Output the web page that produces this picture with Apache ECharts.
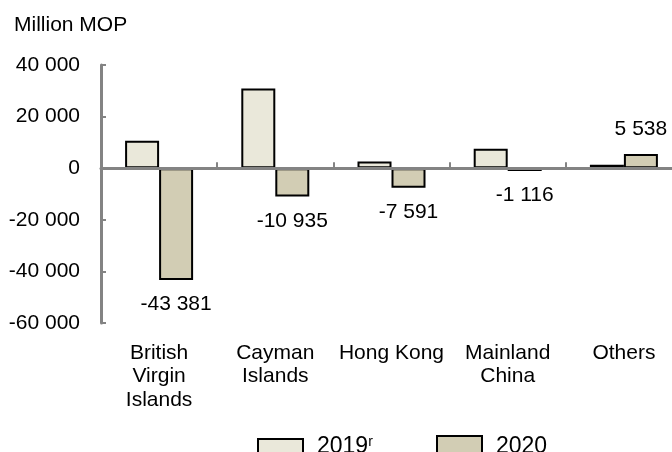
<!DOCTYPE html>
<html>
<head>
<meta charset="utf-8">
<script src="https://cdn.jsdelivr.net/npm/echarts@6/dist/echarts.min.js"></script>
<style>html,body{margin:0;padding:0;background:#fff;overflow:hidden}#c{width:682px;height:452px}</style>
</head>
<body>
<div id="c"></div>
<script>
var categories = ['British\nVirgin\nIslands', 'Cayman\nIslands', 'Hong Kong', 'Mainland\nChina', 'Others'];
var values2019 = [10600, 30900, 2600, 7500, 1300];
var values2020 = [-43381, -10935, -7591, -1116, 5538];
var yTicks = { min: -60000, max: 40000, interval: 20000 };
var unitLabel = 'Million MOP';

var FONT = 'Liberation Sans, Arial, sans-serif';
var fmt = function (v) {
  var s = Math.abs(v).toString().replace(/\B(?=(\d{3})+(?!\d))/g, ' ');
  return (v < 0 ? '-' : '') + s;
};

var chart = echarts.init(document.getElementById('c'), null, { renderer: 'canvas' });
chart.setOption({
  animation: false,
  backgroundColor: '#ffffff',
  textStyle: { fontFamily: FONT, color: '#000' },
  title: {
    text: unitLabel, left: 9, top: 10,
    textStyle: { fontFamily: FONT, fontSize: 21, fontWeight: 'normal', color: '#000' }
  },
  grid: { left: 101, top: 65, right: 0, height: 258, containLabel: false },
  legend: [
    {
      data: ['2019'], left: 252, top: 430, itemWidth: 45, itemHeight: 22, itemGap: 10, icon: 'rect',
      formatter: function () { return '{a|2019}{s|r}'; },
      textStyle: {
        padding: [0, 0, 6, 9],
        rich: {
          a: { fontFamily: FONT, fontSize: 23, color: '#000' },
          s: { fontFamily: FONT, fontSize: 14, color: '#000', verticalAlign: 'top', padding: [0, 0, 10, 0] }
        }
      }
    },
    {
      data: ['2020'], left: 431, top: 430, itemWidth: 45, itemHeight: 22, icon: 'rect',
      textStyle: { fontFamily: FONT, fontSize: 23, color: '#000', padding: [0, 0, 6, 9] }
    }
  ],
  xAxis: [
    {
      type: 'category', data: categories, position: 'bottom',
      axisLine: { show: false, onZero: false },
      axisTick: { show: false },
      axisLabel: { fontFamily: FONT, fontSize: 21, color: '#000', lineHeight: 23.5, margin: 18, interval: 0 }
    },
    {
      type: 'category', data: categories, position: 'bottom', z: 10,
      axisLine: { show: true, onZero: true, lineStyle: { color: '#838383', width: 3 } },
      axisTick: { show: true, inside: true, length: 6, interval: 0, lineStyle: { color: '#838383', width: 2 } },
      axisLabel: { show: false }
    }
  ],
  yAxis: {
    type: 'value', min: yTicks.min, max: yTicks.max, interval: yTicks.interval,
    splitLine: { show: false },
    axisLine: { show: true, lineStyle: { color: '#838383', width: 3 } },
    axisTick: { show: true, inside: true, length: 5, lineStyle: { color: '#838383', width: 2 } },
    axisLabel: { fontFamily: FONT, fontSize: 21, color: '#000', margin: 21, formatter: fmt }
  },
  series: [
    {
      name: '2019', type: 'bar', data: values2019, barWidth: 34, barGap: '0%',
      itemStyle: { color: '#EAE8DA', borderColor: '#000', borderWidth: 2 }
    },
    {
      name: '2020', type: 'bar', barWidth: 34, barGap: '0%',
      data: values2020.map(function (v) {
        return { value: v, label: { position: v < 0 ? 'bottom' : 'top' } };
      }),
      itemStyle: { color: '#D2CDB4', borderColor: '#000', borderWidth: 2 },
      label: {
        show: true, distance: 14, fontFamily: FONT, fontSize: 21, color: '#000',
        formatter: function (p) { return fmt(p.value); }
      }
    }
  ]
});
</script>
</body>
</html>
